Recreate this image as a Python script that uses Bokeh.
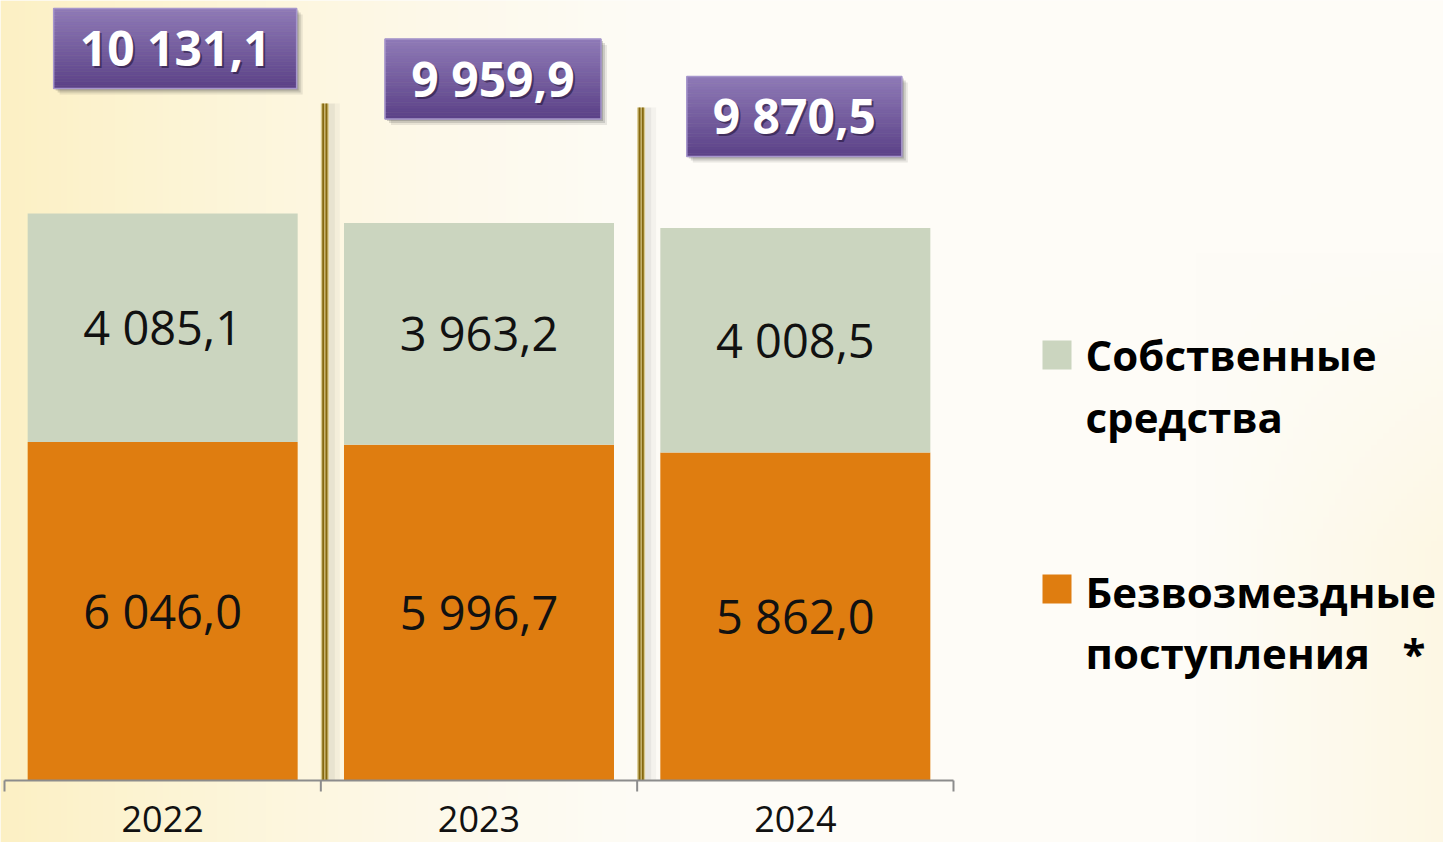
import numpy as np
from bokeh.plotting import figure
from bokeh.models import Range1d
from bokeh.core.properties import value
from bokeh.embed import file_html
from bokeh.resources import INLINE

# ---------------- data ----------------
years = ["2022", "2023", "2024"]
transfers = [6046.0, 5996.7, 5862.0]   # Безвозмездные поступления
own_funds = [4085.1, 3963.2, 4008.5]   # Собственные средства
legend_labels = ["Собственные\nсредства", "Безвозмездные\nпоступления   *"]

# ---------------- style / layout ----------------
C_OWN = "#cbd5bf"
C_TR = "#df7d10"
PURPLE_TOP = (142, 121, 182)
PURPLE_BOT = (92, 66, 136)
FONT = value("Open Sans")

W, H = 1443, 842            # figure size (placed at page origin)
ORIGIN = 0                  # page offset of the figure
X0_PX = 4.0                 # page x of first category boundary
CAT_PX = 316.33             # px per category
BASE_PX = 780.0             # page y of the baseline
PX_PER_UNIT = 0.05597       # vertical px per value unit
BAR_W = 270 / CAT_PX
TXT_CORR = 0.37             # renderer baseline correction (em)
CAP = 0.714                 # cap height of the font (em)

BOX_DX_PX = [12.5, 14.0, -1.0]      # box centre offset from bar centre
BOX_DY_PX = [165.0, 144.0, 111.5]   # box centre height above bar top
BOX_W_PX = [243, 216, 215]
BOX_H_PX = 80
SEP_TOP_PX = [103, 107]
SEP_DX_PX = 4.0


def dxp(px):
    return px / CAT_PX


def dyp(px):
    return px / PX_PER_UNIT


def xd(page_x):
    return (page_x - X0_PX) / CAT_PX


def yd(page_y):
    return (BASE_PX - page_y) / PX_PER_UNIT


def fmt(v):
    return f"{v:,.1f}".replace(",", " ").replace(".", ",")


def centred_baseline(y_centre, fs):
    """data y for an alphabetic baseline so digits are vertically centred on y_centre"""
    return y_centre - dyp(CAP * fs / 2) + dyp(TXT_CORR * fs)


n = len(years)
xs = [i + 0.5 for i in range(n)]
totals = [round(a + b, 1) for a, b in zip(transfers, own_funds)]

x_lo, x_hi = xd(ORIGIN), xd(ORIGIN + W)
y_lo, y_hi = yd(ORIGIN + H), yd(ORIGIN)

p = figure(width=W, height=H, x_range=Range1d(x_lo, x_hi), y_range=Range1d(y_lo, y_hi),
           x_axis_location=None, y_axis_location=None, toolbar_location=None,
           output_backend="svg", min_border=0, outline_line_color=None,
           background_fill_color="#fefcf5", border_fill_color="#fefcf5")
p.xgrid.visible = False
p.ygrid.visible = False

# ---------------- background gradient ----------------
cols, rows = 240, 140
gx = np.linspace(ORIGIN, ORIGIN + W, cols)[None, :]
gy = np.linspace(ORIGIN + H, ORIGIN, rows)[:, None]   # row 0 = bottom
w = np.clip(1 - gx / 680.0, 0, 1) ** 1.3 * 0.95
w = w + np.clip((gx - 1200) / 240.0, 0, 1) * 0.35 * np.clip((gy - 250) / 300.0, 0, 1)
w = np.clip(w + 0 * gy, 0, 1)
base = np.array([254, 252, 247], dtype=float)
yel = np.array([252, 240, 194], dtype=float)
rgb = base[None, None, :] * (1 - w[..., None]) + yel[None, None, :] * w[..., None]
img = np.empty((rows, cols), dtype=np.uint32)
view = img.view(dtype=np.uint8).reshape((rows, cols, 4))
view[..., 0] = rgb[..., 0].astype(np.uint8)
view[..., 1] = rgb[..., 1].astype(np.uint8)
view[..., 2] = rgb[..., 2].astype(np.uint8)
view[..., 3] = 255
p.image_rgba(image=[img], x=x_lo, y=y_lo, dw=x_hi - x_lo, dh=y_hi - y_lo)

# ---------------- separators ----------------
for k, b in enumerate(range(1, n)):
    sx = b + dxp(SEP_DX_PX)
    top = yd(SEP_TOP_PX[k])
    p.quad(left=[sx + dxp(4)], right=[sx + dxp(10)], bottom=[0], top=[top],
           fill_color="#7a7a7a", fill_alpha=0.16, line_color=None)
    p.quad(left=[sx + dxp(10)], right=[sx + dxp(15)], bottom=[0], top=[top],
           fill_color="#7a7a7a", fill_alpha=0.07, line_color=None)
    p.segment(x0=[sx], y0=[0], x1=[sx], y1=[top], line_color="#d8c88c", line_width=8)
    p.segment(x0=[sx - dxp(1.6), sx + dxp(1.6)], y0=[0, 0], x1=[sx - dxp(1.6), sx + dxp(1.6)],
              y1=[top, top], line_color="#86690f", line_width=2)

# ---------------- bars ----------------
p.vbar(x=xs, bottom=0, top=transfers, width=BAR_W, fill_color=C_TR, line_color=None)
p.vbar(x=xs, bottom=transfers, top=totals, width=BAR_W, fill_color=C_OWN, line_color=None)

# segment labels
FS_IN = 47
mid_tr = [t / 2 for t in transfers]
mid_own = [t + o / 2 for t, o in zip(transfers, own_funds)]
p.text(x=xs, y=[centred_baseline(m, FS_IN) for m in mid_tr], text=[fmt(v) for v in transfers],
       text_align="center", text_baseline="alphabetic", text_font=FONT,
       text_font_size=f"{FS_IN}px", text_color="#111111")
p.text(x=xs, y=[centred_baseline(m, FS_IN) for m in mid_own], text=[fmt(v) for v in own_funds],
       text_align="center", text_baseline="alphabetic", text_font=FONT,
       text_font_size=f"{FS_IN}px", text_color="#111111")

# ---------------- total boxes ----------------
NSTRIP = 24
FS_B = 48
for i in range(n):
    cx = xs[i] + dxp(BOX_DX_PX[i])
    cy = totals[i] + dyp(BOX_DY_PX[i])
    hw = dxp(BOX_W_PX[i]) / 2
    hh = dyp(BOX_H_PX) / 2
    # shadow
    for off, al in [(6, 0.10), (4, 0.16), (2, 0.22)]:
        p.quad(left=[cx - hw + dxp(off)], right=[cx + hw + dxp(off)],
               bottom=[cy - hh - dyp(off)], top=[cy + hh - dyp(off)],
               fill_color="#303030", fill_alpha=al, line_color=None)
    tops, bots, cols_ = [], [], []
    for s in range(NSTRIP):
        f = s / (NSTRIP - 1)
        c = tuple(int(round(PURPLE_TOP[j] * (1 - f) + PURPLE_BOT[j] * f)) for j in range(3))
        tops.append(cy + hh - 2 * hh * s / NSTRIP)
        bots.append(cy + hh - 2 * hh * (s + 1) / NSTRIP)
        cols_.append("#%02x%02x%02x" % c)
    p.quad(left=[cx - hw] * NSTRIP, right=[cx + hw] * NSTRIP, top=tops, bottom=bots,
           fill_color=cols_, line_color=cols_, line_width=0.5)
    p.quad(left=[cx - hw], right=[cx + hw], top=[cy + hh], bottom=[cy - hh],
           fill_color=None, line_color="#a696cc", line_width=1.5)
    base_y = centred_baseline(cy, FS_B)
    p.text(x=[cx + dxp(2)], y=[base_y - dyp(2)], text=[fmt(totals[i])], text_align="center",
           text_baseline="alphabetic", text_font=FONT, text_font_style="bold",
           text_font_size=f"{FS_B}px", text_color="#1e1030", text_alpha=0.55)
    p.text(x=[cx], y=[base_y], text=[fmt(totals[i])], text_align="center",
           text_baseline="alphabetic", text_font=FONT, text_font_style="bold",
           text_font_size=f"{FS_B}px", text_color="#ffffff")

# ---------------- axis ----------------
p.segment(x0=[0], y0=[0], x1=[n], y1=[0], line_color="#8c8c8c", line_width=2)
bounds = list(range(n + 1))
p.segment(x0=bounds, y0=[0] * len(bounds), x1=bounds, y1=[-dyp(11)] * len(bounds),
          line_color="#8c8c8c", line_width=2)
FS_Y = 36
p.text(x=xs, y=[-dyp(52) + dyp(TXT_CORR * FS_Y)] * n, text=years, text_align="center",
       text_baseline="alphabetic", text_font=FONT, text_font_size=f"{FS_Y}px",
       text_color="#111111")

# ---------------- legend ----------------
LEG_SQ_TOP = [340, 574]
LEG_LINE_BASE = [[370, 432], [607, 668]]
FS_L = 42
leg_colors = [C_OWN, C_TR]
for k, lab in enumerate(legend_labels):
    t = LEG_SQ_TOP[k]
    p.quad(left=[xd(1042)], right=[xd(1071)], top=[yd(t)], bottom=[yd(t + 29)],
           fill_color=leg_colors[k], line_color=None)
    for j, line in enumerate(lab.split("\n")):
        p.text(x=[xd(1085)], y=[yd(LEG_LINE_BASE[k][j]) + dyp(TXT_CORR * FS_L)],
               text=[line.replace(" ", "\u00a0")],
               text_align="left", text_baseline="alphabetic", text_font=FONT,
               text_font_style="bold", text_font_size=f"{FS_L}px", text_color="#000000")

open("out.html", "w").write(file_html(p, INLINE, title="chart"))
